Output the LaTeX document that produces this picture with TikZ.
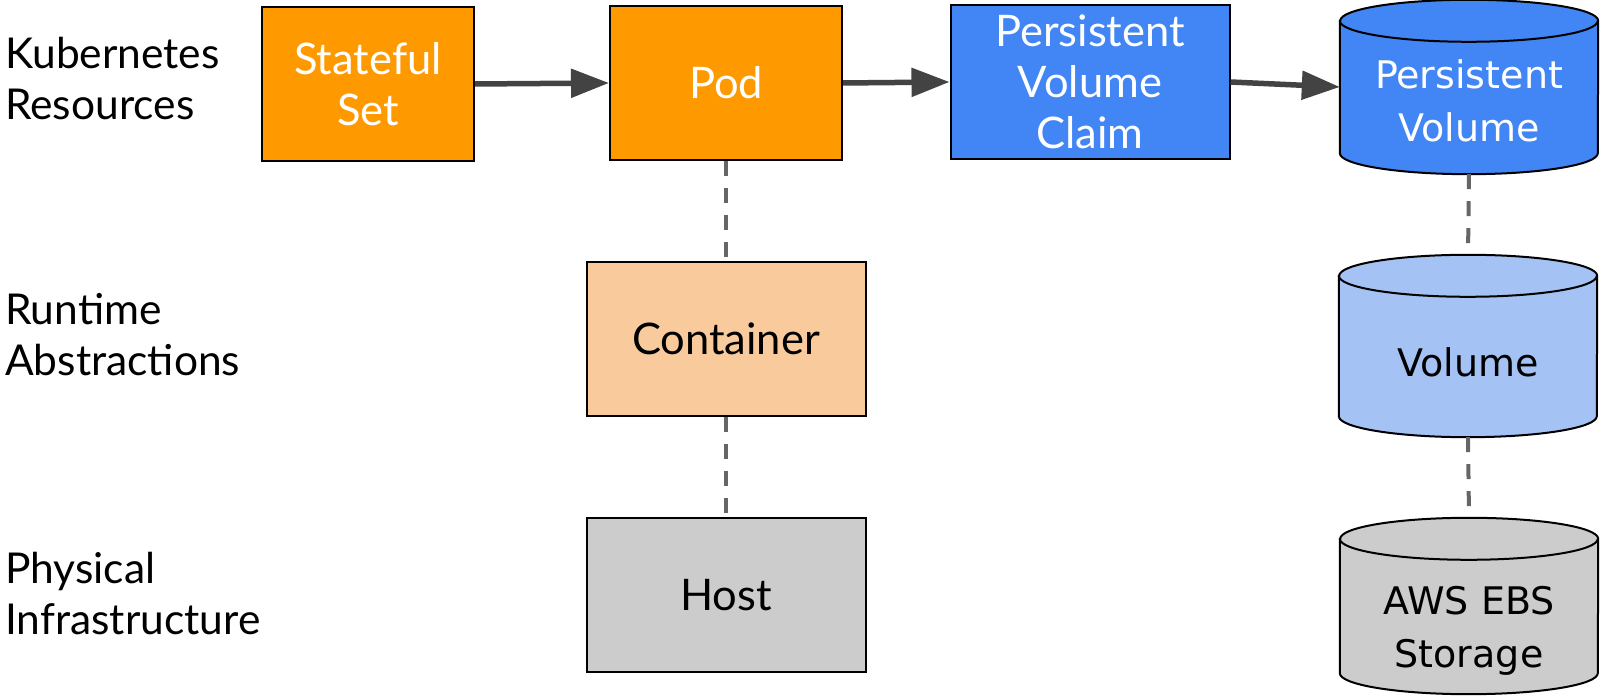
\documentclass[tikz,border=0pt]{standalone}
\usepackage{fontspec}
\setmainfont{Lato}
\newfontfamily\cylfont{DejaVu Sans}
\usetikzlibrary{arrows.meta,calc,backgrounds}

\definecolor{k8sorange}{HTML}{FF9900}
\definecolor{ctrpeach}{HTML}{F9CB9C}
\definecolor{pvblue}{HTML}{4285F4}
\definecolor{volblue}{HTML}{A4C2F4}
\definecolor{hwgrey}{HTML}{CCCCCC}
\definecolor{arrowgrey}{HTML}{434343}
\definecolor{dashgrey}{HTML}{666666}

% cylinder: #1 name, #2 centre, #3 height, #4 fill, #5 text colour,
% #6 text drop below centre, #7 text
\newcommand\storagecyl[7]{%
  \node[cylbox, minimum height=#3] (#1) at (#2) {};
  \node[cyltext, text=#5] (#1-label) at ($(#1.center)+(0,-#6)$) {#7};
  \begin{scope}[on background layer]
    \filldraw[fill=#4, draw=black, line width=2pt]
      ($(#1.north west)+(0,-21)$) -- ($(#1.south west)+(0,21)$)
      arc[start angle=180, end angle=360, x radius=129, y radius=21]
      -- ($(#1.north east)+(0,-21)$)
      arc[start angle=0, end angle=180, x radius=129, y radius=21] -- cycle;
    \draw[line width=2pt] ($(#1.north west)+(0,-21)$)
      arc[start angle=180, end angle=360, x radius=129, y radius=21];
  \end{scope}
}

\begin{document}
\begin{tikzpicture}[x=1pt, y=1pt,
  box/.style={draw=black, line width=2pt, minimum width=#1, minimum height=154pt,
    inner sep=0pt, align=center, font=\fontsize{43.5}{51}\selectfont},
  cylbox/.style={draw=none, minimum width=258pt, inner sep=0pt},
  cyltext/.style={align=center, inner sep=0pt, font=\cylfont\fontsize{38}{53}\selectfont},
  layer/.style={anchor=west, align=left, inner sep=0pt, font=\fontsize{42.5}{51}\selectfont},
  flow/.style={draw=arrowgrey, line width=5.5pt, -{Triangle[length=38pt, width=28pt]}},
  tie/.style={draw=dashgrey, line width=4pt, dash pattern=on 15pt off 12pt}]

\useasboundingbox (0,0) rectangle (1600,700);

% layer captions
\node[layer] (k8s)  at (5,621) {Kubernetes\\Resources};
\node[layer] (rt)   at (5,365) {Runtime\\Abstractions};
\node[layer] (phys) at (5,106) {Physical\\Infrastructure};

% Kubernetes resources
\node[box=212pt, fill=k8sorange, text=white] (ss)  at (368,616)  {Stateful\\Set};
\node[box=232pt, fill=k8sorange, text=white] (pod) at (726,617)  {Pod};
\node[box=279pt, fill=pvblue, text=white]    (pvc) at (1090,618) {Persistent\\Volume\\Claim};
\storagecyl{pv}{1469,613}{174pt}{pvblue}{white}{14}{Persistent\\Volume}

% runtime and physical layers
\node[box=279pt, fill=ctrpeach] (ctr)  at (726,361) {Container};
\node[box=279pt, fill=hwgrey]   (host) at (726,105) {Host};
\storagecyl{vol}{1468,354}{182pt}{volblue}{black}{16}{Volume}
\storagecyl{ebs}{1469,94}{176pt}{hwgrey}{black}{25}{AWS EBS\\Storage}

% ownership arrows
\draw[flow] (ss.east)  -- (pod.west);
\draw[flow] (pod.east) -- (pvc.west);
\draw[flow] (pvc.east) -- (pv.west);

% layer ties
\draw[tie] (pod.south) -- (ctr.north);
\draw[tie] (ctr.south) -- (host.north);
\draw[tie] (pv.south)  -- (vol.north);
\draw[tie] (vol.south) -- (ebs.north);
\end{tikzpicture}
\end{document}
